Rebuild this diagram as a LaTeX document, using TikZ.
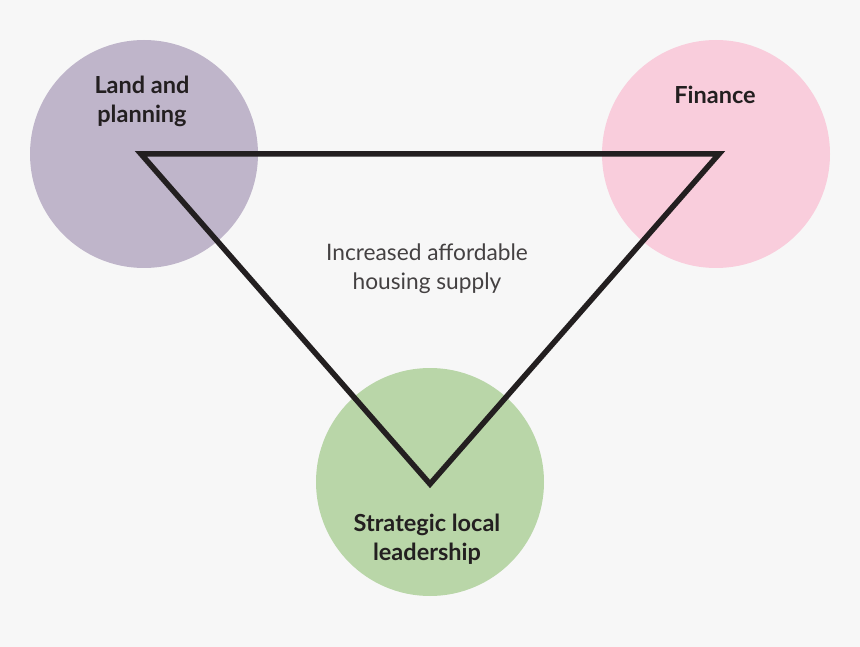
\documentclass[tikz,border=0pt]{standalone}
\usepackage{fontspec}
\setmainfont{Lato}
\usetikzlibrary{positioning}
\definecolor{bgpaper}{RGB}{247,247,247}
\definecolor{lilac}{RGB}{191,181,202}
\definecolor{blush}{RGB}{249,205,220}
\definecolor{sage}{RGB}{185,214,168}
\definecolor{ink}{RGB}{35,31,32}
\tikzset{
  pillar/.style={circle,fill=#1,minimum size=228pt,inner sep=0pt},
  pillar/.default=lilac,
  pillar label/.style={font=\fontsize{23.5}{29}\selectfont\bfseries,text=ink,align=center,anchor=base},
  goal label/.style={font=\fontsize{22.7}{29}\selectfont,text=ink!85,align=center,anchor=base},
  edge/.style={draw=ink,line width=5.5pt,line join=miter},
}
\begin{document}
\begin{tikzpicture}[x=1pt,y=-1pt]
  \fill[bgpaper] (0,0) rectangle (860,647);
  \useasboundingbox (0,0) rectangle (860,647);
  % the three pillars
  \node[pillar=lilac] (land) at (144,154) {};
  \node[pillar=blush] (finance) at (716,154) {};
  \node[pillar=sage] (lead) at (430,482) {};
  % triangle corners
  \coordinate (cland) at (141,154);
  \coordinate (cfin) at (719,154);
  \coordinate (clead) at (430,484);
  \draw[edge] (cland) -- (cfin) -- (clead) -- cycle;
  % labels (anchored on the last line)
  \node[pillar label] (landtxt) at (142,123) {Land and\\planning};
  \node[pillar label] (fintxt) at (715,104) {Finance};
  \node[pillar label] (leadtxt) at (427,560) {Strategic local\\leadership};
  \node[goal label] (goal) at (427,290) {Increased affordable\\housing supply};
\end{tikzpicture}
\end{document}
